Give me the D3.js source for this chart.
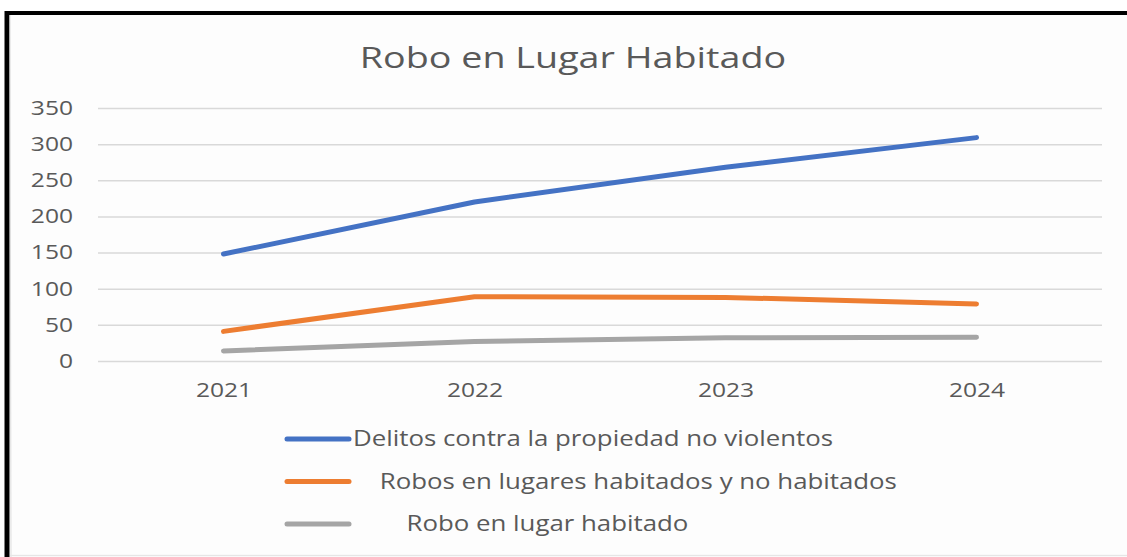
<!DOCTYPE html>
<html>
<head>
<meta charset="utf-8">
<title>Robo en Lugar Habitado</title>
<style>
  body { margin: 0; background: #fff; }
  svg { display: block; }
  .grid line { stroke: #d9d9d9; stroke-width: 1.5; }
  .grid path { display: none; }
  .axis text { fill: #595959; font-family: 'Open Sans', sans-serif; font-size: 20px; }
  .axis path, .axis line { display: none; }
  .legend text { fill: #595959; font-family: 'Open Sans', sans-serif; font-size: 21px; white-space: pre; }
</style>
</head>
<body>
<div id="chart"></div>
<script src="https://cdnjs.cloudflare.com/ajax/libs/d3/7.8.5/d3.min.js"></script>
<script>
var years = ["2021", "2022", "2023", "2024"];
var seriesNames = [
  "Delitos contra la propiedad no violentos",
  "    Robos en lugares habitados y no habitados",
  "        Robo en lugar habitado"
];
var delitos = [148, 220, 268, 309];
var robosLugares = [41, 89, 88, 79];
var roboHabitado = [14, 27, 32, 33];
var yTicks = [0, 50, 100, 150, 200, 250, 300, 350];
var colors = ["#4472C4", "#ED7D31", "#A5A5A5"];

var W = 1127, H = 557;
var margin = {top: 108, right: 25, bottom: 196, left: 98};
var width = W - margin.left - margin.right,
    height = H - margin.top - margin.bottom;
var stretch = 1.23; // text in the picture is drawn a bit wide

var svg = d3.select("#chart").append("svg")
    .attr("width", W)
    .attr("height", H);

// background + frame
svg.append("rect").attr("x", 0).attr("y", 0).attr("width", W).attr("height", H).attr("fill", "#fff");
svg.append("rect").attr("x", 7).attr("y", 13).attr("width", W).attr("height", 541)
    .attr("fill", "#fdfdfd").attr("stroke", "none");
svg.append("line").attr("x1", 7).attr("x2", 7).attr("y1", 11).attr("y2", 557)
    .attr("stroke", "#000").attr("stroke-width", 5);
svg.append("line").attr("x1", 5).attr("x2", W).attr("y1", 13).attr("y2", 13)
    .attr("stroke", "#000").attr("stroke-width", 4);
svg.append("line").attr("x1", 10).attr("x2", 11).attr("y1", 15).attr("y2", 557)
    .attr("stroke", "#ddd").attr("stroke-width", 1);
svg.append("line").attr("x1", 10).attr("x2", W).attr("y1", 555.5).attr("y2", 555.5)
    .attr("stroke", "#e6e6e6").attr("stroke-width", 1.5);

svg.append("text")
    .attr("transform", "translate(573,68) scale(1.3,1)")
    .attr("text-anchor", "middle")
    .style("font-family", "'Open Sans', sans-serif")
    .style("font-size", "29px")
    .style("fill", "#595959")
    .text("Robo en Lugar Habitado");

var g = svg.append("g").attr("transform", "translate(" + margin.left + "," + margin.top + ")");

var x = d3.scalePoint().domain(years).range([0, width]).padding(0.5);
var y = d3.scaleLinear().domain([0, 350]).range([height, 0]);

g.append("g").attr("class", "grid")
    .call(d3.axisLeft(y).tickValues(yTicks).tickSize(-width).tickFormat(""));

g.append("g").attr("class", "axis")
    .attr("transform", "translate(-25,0)")
    .call(d3.axisLeft(y).tickValues(yTicks).tickSize(0).tickPadding(0))
    .selectAll("text").attr("transform", "scale(" + stretch + ",1)");

g.append("g").attr("class", "axis")
    .attr("transform", "translate(0," + height + ")")
    .call(d3.axisBottom(x).tickSize(0).tickPadding(22))
    .selectAll("text").attr("transform", "scale(" + stretch + ",1)");

var data = [delitos, robosLugares, roboHabitado];
var line = d3.line().x(function(d, i){ return x(years[i]); }).y(function(d){ return y(d); });

g.selectAll(".series")
    .data(data)
    .enter().append("path")
    .attr("class", "series")
    .attr("d", line)
    .attr("fill", "none")
    .attr("stroke", function(d, i){ return colors[i]; })
    .attr("stroke-width", 5)
    .attr("stroke-linecap", "round")
    .attr("stroke-linejoin", "round");

// legend
var legend = svg.append("g").attr("class", "legend")
    .selectAll("g")
    .data(seriesNames)
    .enter().append("g")
    .attr("transform", function(d, i){ return "translate(287," + (439 + i * 42.5) + ")"; });

legend.append("line")
    .attr("x1", 0).attr("x2", 62)
    .attr("stroke", function(d, i){ return colors[i]; })
    .attr("stroke-width", 5)
    .attr("stroke-linecap", "round");

legend.append("text")
    .attr("transform", "translate(66,0) scale(" + stretch + ",1)")
    .attr("dy", "0.35em")
    .text(function(d){ return d; });
</script>
</body>
</html>
